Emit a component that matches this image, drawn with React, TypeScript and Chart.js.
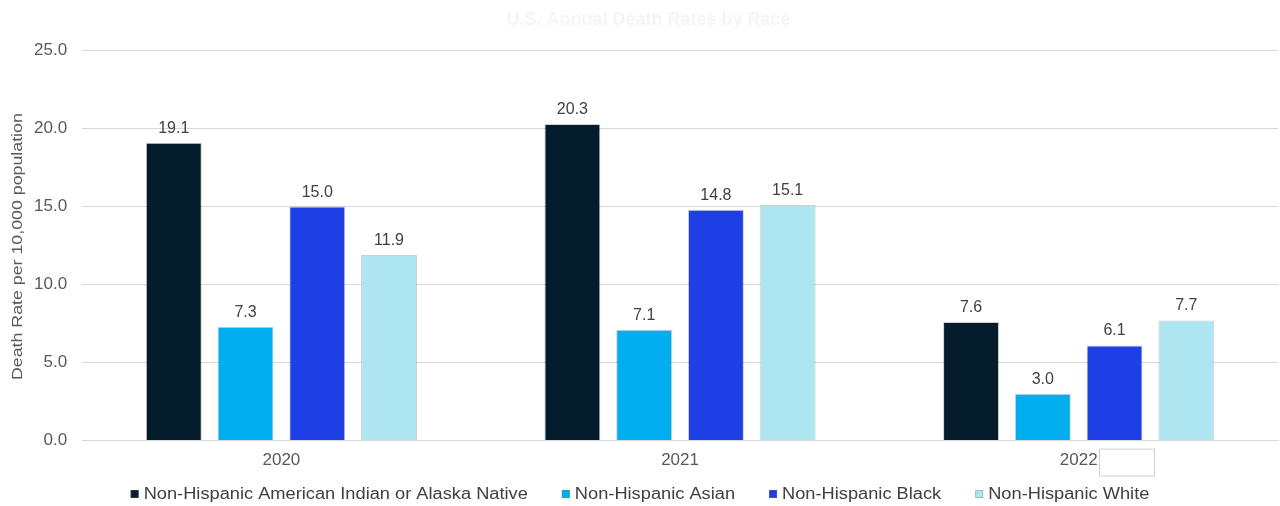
import React, { useEffect, useRef } from "react";
import { Chart, registerables } from "chart.js";

Chart.register(...registerables);

const categories = ["2020", "2021", "2022"];
const seriesNames = [
  "Non-Hispanic American Indian or Alaska Native",
  "Non-Hispanic Asian",
  "Non-Hispanic Black",
  "Non-Hispanic White",
];
const aianValues = [19.1, 20.3, 7.6];
const asianValues = [7.3, 7.1, 3.0];
const blackValues = [15.0, 14.8, 6.1];
const whiteValues = [11.9, 15.1, 7.7];
const seriesColors = ["#041C2C", "#00AEEF", "#1F3FE6", "#ADE6F0"];
const titleText = "U.S. Annual Death Rates by Race";
const yTitle = "Death Rate per 10,000 population";

const FONT = "'Liberation Sans', Arial, sans-serif";

const valueLabels = {
  id: "valueLabels",
  afterDatasetsDraw(chart: any) {
    const ctx = chart.ctx;
    ctx.save();
    ctx.font = `16px ${FONT}`;
    ctx.fillStyle = "#404040";
    ctx.textAlign = "center";
    ctx.textBaseline = "alphabetic";
    chart.data.datasets.forEach((ds: any, i: number) => {
      const meta = chart.getDatasetMeta(i);
      meta.data.forEach((bar: any, j: number) => {
        ctx.fillText(Number(ds.data[j]).toFixed(1), bar.x, bar.y - 10);
      });
    });
    ctx.restore();
  },
};

const yTitleDraw = {
  id: "yTitleDraw",
  afterDraw(chart: any) {
    const ctx = chart.ctx;
    const area = chart.chartArea;
    ctx.save();
    ctx.translate(18, (area.top + area.bottom) / 2 + 1);
    ctx.rotate(-Math.PI / 2);
    ctx.scale(1.27, 1);
    ctx.font = `14px ${FONT}`;
    ctx.fillStyle = "#595959";
    ctx.textAlign = "center";
    ctx.textBaseline = "middle";
    ctx.fillText(yTitle, 0, 0);
    ctx.restore();
  },
};

const customLegend = {
  id: "customLegend",
  afterDraw(chart: any) {
    const ctx = chart.ctx;
    const sx = 1.14;
    const box = 8;
    const gapBoxText = 5;
    const gapItems = 34;
    ctx.save();
    ctx.font = `16px ${FONT}`;
    const items = chart.data.datasets.map((ds: any) => ({
      label: ds.label,
      color: ds.backgroundColor,
      w: ctx.measureText(ds.label).width * sx,
    }));
    const total =
      items.reduce((s: number, it: any) => s + box + gapBoxText + it.w, 0) +
      gapItems * (items.length - 1);
    let x = chart.width / 2 - total / 2;
    const y = 494;
    items.forEach((it: any) => {
      ctx.fillStyle = it.color;
      ctx.fillRect(x, y - box / 2, box, box);
      ctx.strokeStyle = "rgba(120,120,120,0.35)";
      ctx.lineWidth = 1;
      ctx.strokeRect(x + 0.5, y - box / 2 + 0.5, box - 1, box - 1);
      x += box + gapBoxText;
      ctx.save();
      ctx.translate(x, y + 1);
      ctx.scale(sx, 1);
      ctx.fillStyle = "#404040";
      ctx.textAlign = "left";
      ctx.textBaseline = "middle";
      ctx.fillText(it.label, 0, 0);
      ctx.restore();
      x += it.w + gapItems;
    });
    ctx.restore();
  },
};

const patchBox = {
  id: "patchBox",
  afterDraw(chart: any) {
    const xs = chart.scales.x;
    const n = categories.length - 1;
    const px = xs.getPixelForTick(n);
    const ctx = chart.ctx;
    ctx.save();
    ctx.font = `17px ${FONT}`;
    const half = ctx.measureText(categories[n]).width / 2;
    ctx.fillStyle = "#ffffff";
    ctx.strokeStyle = "#d0d0d0";
    ctx.lineWidth = 1;
    const top = chart.chartArea.bottom + 8;
    const left = Math.round(px + half + 1);
    ctx.fillRect(left, top, 56, 28);
    ctx.strokeRect(left + 0.5, top + 0.5, 55, 27);
    ctx.restore();
  },
};

export default function App() {
  const ref = useRef<HTMLCanvasElement>(null);
  useEffect(() => {
    document.body.style.margin = "0";
    const data = [aianValues, asianValues, blackValues, whiteValues];
    const chart = new Chart(ref.current!, {
      type: "bar",
      data: {
        labels: categories,
        datasets: seriesNames.map((name, i) => ({
          label: name,
          data: data[i],
          backgroundColor: seriesColors[i],
          borderColor: "rgba(120,120,120,0.35)",
          borderWidth: 1,
          categoryPercentage: 0.72,
          barPercentage: 0.78,
        })),
      },
      options: {
        animation: false,
        responsive: false,
        maintainAspectRatio: false,
        layout: { padding: { left: 19, right: 2, top: 7, bottom: 25 } },
        plugins: {
          title: {
            display: true,
            text: titleText,
            color: "#f5f5f5",
            font: { family: FONT, size: 18 },
            padding: { top: 2, bottom: 20 },
          },
          legend: { display: false },
          tooltip: { enabled: false },
        },
        scales: {
          x: {
            grid: { display: false, drawTicks: false },
            border: { color: "#d9d9d9" },
            ticks: { color: "#595959", font: { family: FONT, size: 17 }, padding: 10 },
          },
          y: {
            min: 0,
            max: 25,
            border: { display: false },
            grid: { color: "#d9d9d9", drawTicks: false },
            ticks: {
              stepSize: 5,
              color: "#595959",
              padding: 15,
              font: { family: FONT, size: 17 },
              callback: (v: any) => Number(v).toFixed(1),
            },
          },
        },
      },
      plugins: [valueLabels, yTitleDraw, customLegend, patchBox],
    });
    return () => chart.destroy();
  }, []);
  return <canvas ref={ref} width={1280} height={506} style={{ display: "block" }} />;
}
